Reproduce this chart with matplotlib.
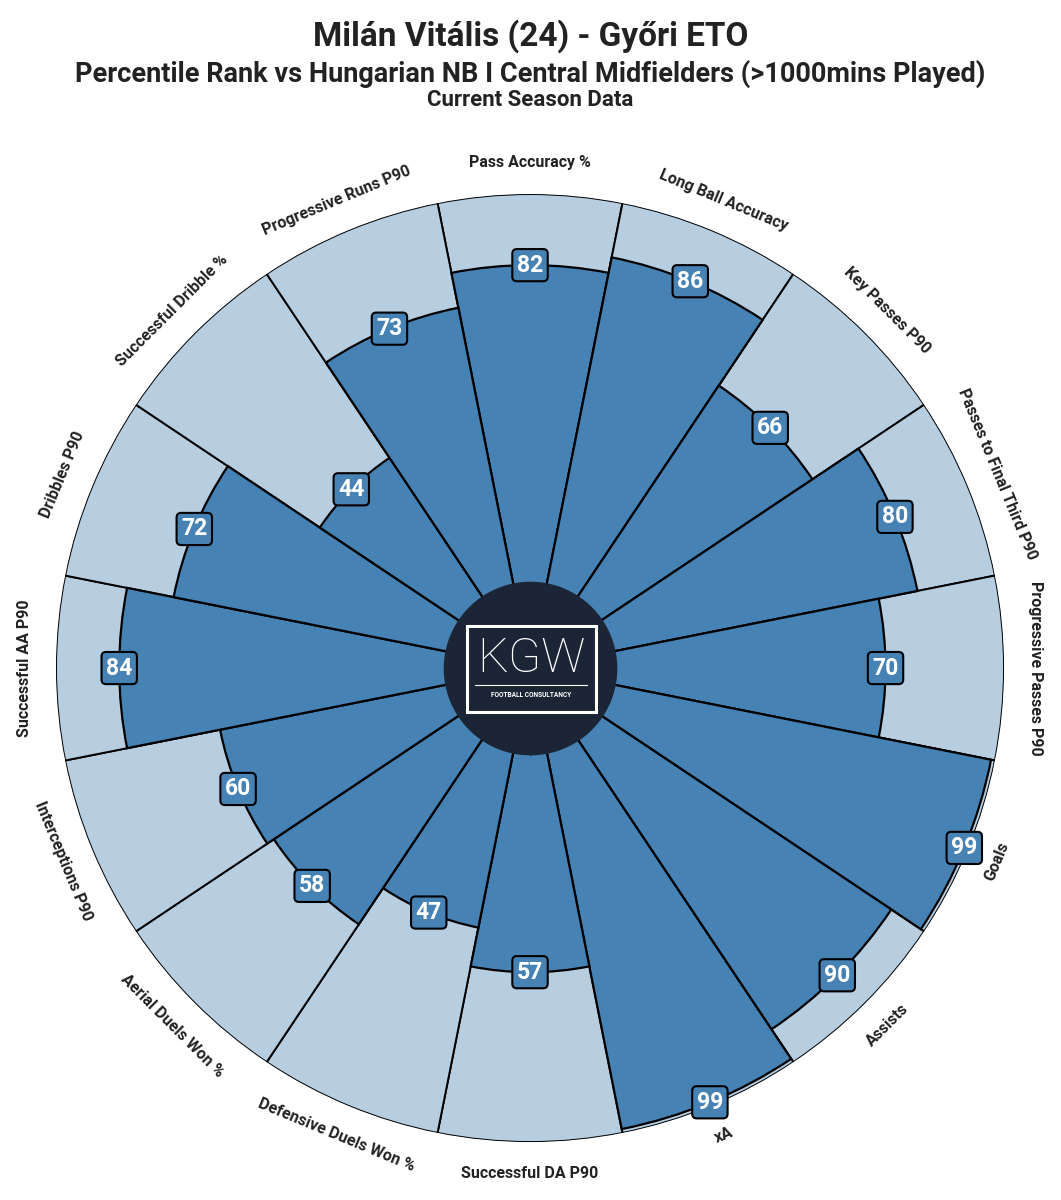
import numpy as np
import matplotlib
matplotlib.use('Agg')
import matplotlib.pyplot as plt

plt.rcParams['font.family'] = ['Roboto', 'DejaVu Sans']

params = ["Pass Accuracy %", "Long Ball Accuracy", "Key Passes P90",
          "Passes to Final Third P90", "Progressive Passes P90", "Goals",
          "Assists", "xA", "Successful DA P90", "Defensive Duels Won %",
          "Aerial Duels Won %", "Interceptions P90", "Successful AA P90",
          "Dribbles P90", "Successful Dribble %", "Progressive Runs P90"]
values = [82, 86, 66, 80, 70, 99, 90, 99, 57, 47, 58, 60, 84, 72, 44, 73]

title = "Milán Vitális (24) - Győri ETO"
subtitle = "Percentile Rank vs Hungarian NB I Central Midfielders (>1000mins Played)"
subsub = "Current Season Data"

dark = '#4682b4'
light = '#b7cde0'
txt = '#222222'
hole = 20  # inner circle offset

fig = plt.figure(figsize=(10.61, 12), dpi=100)
ax = fig.add_axes([0.0528, 0.0483, 0.8935, 0.79], projection='polar')
ax.set_theta_zero_location('N')
ax.set_theta_direction(-1)

n = len(params)
width = 2 * np.pi / n
theta = np.arange(n) * width

# background slices
ax.bar(theta, [100] * n, width=width, bottom=hole, color=light,
       edgecolor='black', linewidth=1.4, zorder=1)
# value slices
ax.bar(theta, values, width=width, bottom=hole, color=dark,
       edgecolor='black', linewidth=1.6, zorder=2)

# centre circle
tt = np.linspace(0, 2 * np.pi, 200)
ax.fill_between(tt, 0, 21.8, color='#1c2535', zorder=5)

ax.set_ylim(0, 120)
ax.set_xticks([])
ax.set_yticks([])
ax.spines['polar'].set_visible(False)
ax.grid(False)

for i in range(n):
    # value boxes
    ax.text(theta[i], values[i] + hole, str(values[i]), ha='center', va='center',
            fontsize=16.5, fontweight='bold', color='white', zorder=6,
            bbox=dict(boxstyle='round,pad=0.2', facecolor=dark,
                      edgecolor='black', linewidth=1.5))
    # labels
    deg = (90 - i * 360 / n) % 360
    rot = deg - 90 if deg <= 180 else deg - 270
    ax.text(theta[i], 128, params[i], ha='center', va='center', rotation=rot,
            rotation_mode='anchor', fontsize=11.5, fontweight='bold', color=txt,
            clip_on=False)

# logo
fig.patches.append(plt.Rectangle((467 / 1061, 1 - 712 / 1200), 129 / 1061, 86 / 1200,
                                 transform=fig.transFigure, fill=False,
                                 edgecolor='white', linewidth=2.2, zorder=10))
fig.text(531 / 1061, 1 - 659 / 1200, "KGW", ha='center', va='center',
         fontsize=35, fontweight='light', color='white', zorder=11)
fig.lines.append(plt.Line2D([475 / 1061, 587 / 1061], [1 - 685 / 1200, 1 - 685 / 1200],
                            transform=fig.transFigure, color='white', linewidth=0.8))
fig.text(531 / 1061, 1 - 695 / 1200, "FOOTBALL CONSULTANCY", ha='center', va='center',
         fontsize=4.8, fontweight='bold', color='white', zorder=11)

fig.text(0.5, 1 - 36 / 1200, title, ha='center', va='center', fontsize=24,
         fontweight='bold', color=txt)
fig.text(0.5, 1 - 74 / 1200, subtitle, ha='center', va='center', fontsize=19.5,
         fontweight='bold', color=txt)
fig.text(0.5, 1 - 100 / 1200, subsub, ha='center', va='center', fontsize=16,
         fontweight='bold', color=txt)

fig.savefig('out.png', dpi=100, facecolor='white')
